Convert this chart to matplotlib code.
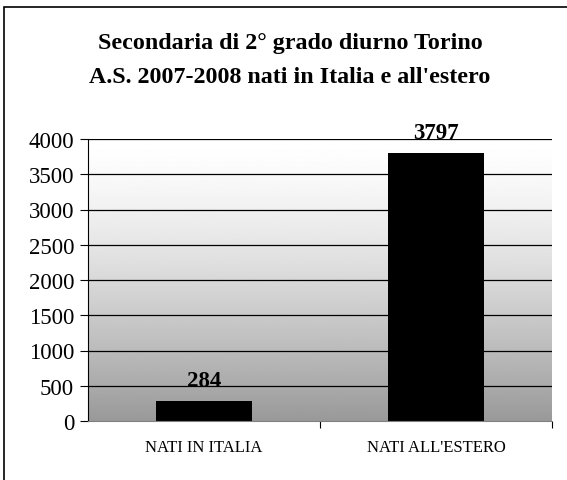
import numpy as np
import matplotlib
matplotlib.use("Agg")
from matplotlib import pyplot as plt
from matplotlib.patches import Rectangle

categorie = ["NATI IN ITALIA", "NATI ALL'ESTERO"]
valori = [284, 3797]
yticks = [0, 500, 1000, 1500, 2000, 2500, 3000, 3500, 4000]
titolo = "Secondaria di 2° grado diurno Torino\nA.S. 2007-2008 nati in Italia e all'estero"

plt.rcParams['font.family'] = ['Liberation Serif', 'DejaVu Serif']

fig = plt.figure(figsize=(5.67, 4.81), dpi=100)
# cornice (solo sinistra e alto visibili, il resto è tagliato)
fig.patches.append(Rectangle((3.5 / 567, -0.1), 1.2, 1.1 - 7.5 / 481,
                             transform=fig.transFigure, fill=False,
                             edgecolor='black', linewidth=1.2))

ax = fig.add_axes([88 / 567, 59 / 481, 464 / 567, 282 / 481])
x = np.arange(len(categorie))
ax.set_xlim(-0.5, len(categorie) - 0.5)
ax.set_ylim(0, 4000)

# sfondo sfumato
t = np.linspace(0, 1, 256)
grad = (1 - 0.4 * (1 - t) ** 1.4).reshape(-1, 1)
ax.imshow(grad, cmap='gray', vmin=0, vmax=1, aspect='auto',
          extent=(-0.5, len(categorie) - 0.5, 0, 4000), origin='lower', zorder=0)

for yt in yticks[1:]:
    ax.axhline(yt, color='black', linewidth=0.9, zorder=1)

ax.bar(x, valori, width=0.41, color='black', zorder=2)
for xi, v in zip(x, valori):
    ax.annotate(str(v), (xi, v), xytext=(0, 11), textcoords='offset points',
                ha='center', va='baseline', fontsize=16.5, fontweight='bold')

ax.set_yticks(yticks)
ax.set_yticklabels([str(yt) for yt in yticks], fontsize=16.5)
ax.set_xticks([0.5, 1.5])
ax.set_xticklabels([])
ax.set_xticks(x, minor=True)
ax.set_xticklabels(categorie, minor=True, fontsize=12)
ax.tick_params(axis='x', which='minor', length=0, pad=13)
ax.tick_params(axis='x', which='major', length=5, direction='out')
ax.tick_params(axis='y', length=6, direction='out', pad=4)

for s in ['top', 'right']:
    ax.spines[s].set_visible(False)
ax.spines['bottom'].set_color('#808080')

fig.text(290 / 567, 0.875, titolo, ha='center', va='center', fontsize=17.3,
         fontweight='bold', linespacing=1.8)

plt.savefig('out.png', dpi=100)
